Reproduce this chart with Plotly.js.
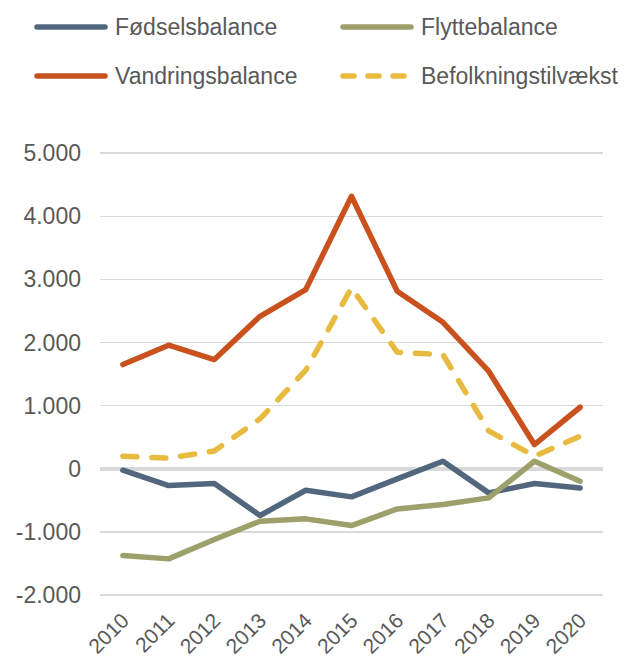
<!DOCTYPE html>
<html>
<head>
<meta charset="utf-8">
<script src="https://cdn.plot.ly/plotly-3.0.1.min.js"></script>
<style>
html,body{margin:0;padding:0;background:#fff;}
#chart{width:625px;height:662px;}
.scatterlayer .js-line, .shapelayer path{stroke-linecap:round !important;stroke-linejoin:round !important;}
</style>
</head>
<body>
<div id="chart"></div>
<script>
const years = ['2010','2011','2012','2013','2014','2015','2016','2017','2018','2019','2020'];
const seriesNames = ['Fødselsbalance','Flyttebalance','Vandringsbalance','Befolkningstilvækst'];
const foedselsbalance = [-25, -268, -236, -743, -342, -447, -162, 117, -384, -236, -305];
const flyttebalance = [-1377, -1430, -1124, -833, -796, -902, -638, -569, -463, 117, -200];
const vandringsbalance = [1650, 1956, 1729, 2415, 2838, 4317, 2811, 2320, 1544, 382, 973];
const befolkningstilvaekst = [197, 165, 280, 790, 1560, 2865, 1845, 1808, 600, 197, 514];
const yTickVals = [-2000, -1000, 0, 1000, 2000, 3000, 4000, 5000];
const yTickText = ['-2.000', '-1.000', '0', '1.000', '2.000', '3.000', '4.000', '5.000'];

const colors = ['#52677D', '#9EA06C', '#C9511E', '#E8BB40'];
const dashes = ['solid', 'solid', 'solid', '14px,15px'];
const values = [foedselsbalance, flyttebalance, vandringsbalance, befolkningstilvaekst];
const LW = 5.5;

const traces = values.map((v, i) => ({
  type: 'scatter', mode: 'lines', x: years, y: v, name: seriesNames[i],
  line: {color: colors[i], width: LW, dash: dashes[i]},
  hoverinfo: 'x+y+name'
}));

// plot area in pixels
const W = 625, H = 662;
const mL = 100, mR = 22, mT = 150, mB = 64;
const pw = W - mL - mR, ph = H - mT - mB;
const px = x => (x - mL) / pw;
const py = y => (H - mB - y) / ph;

// manual legend (2 columns x 2 rows)
const legPos = [[37, 27], [343, 27], [37, 76], [343, 76]];
const shapes = [];
const annotations = [];
seriesNames.forEach((n, i) => {
  const [lx, ly] = legPos[i];
  shapes.push({type: 'line', xref: 'paper', yref: 'paper',
    x0: px(lx), x1: px(lx + 68), y0: py(ly), y1: py(ly),
    line: {color: colors[i], width: LW, dash: i === 3 ? '11px,14px' : 'solid'}});
  annotations.push({xref: 'paper', yref: 'paper', x: px(lx + 76), y: py(ly),
    xanchor: 'left', yanchor: 'middle', text: n, showarrow: false,
    font: {family: 'Liberation Sans, Arial, sans-serif', size: 23, color: '#595959'}});
});

const layout = {
  width: W, height: H,
  margin: {l: mL, r: mR, t: mT, b: mB},
  paper_bgcolor: '#fff', plot_bgcolor: '#fff',
  showlegend: false,
  font: {family: 'Liberation Sans, Arial, sans-serif', color: '#595959'},
  xaxis: {
    type: 'category', range: [-0.5, 10.5], showgrid: false, zeroline: false,
    showline: false, ticks: '', tickangle: -45,
    tickfont: {size: 21, color: '#595959'}, ticklabelstandoff: 5
  },
  yaxis: {
    range: [-2050, 5050], tickvals: yTickVals, ticktext: yTickText,
    showgrid: true, gridcolor: '#D9D9D9', gridwidth: 1.5,
    zeroline: true, zerolinecolor: '#D9D9D9', zerolinewidth: 4,
    showline: false, ticks: '', tickfont: {size: 23, color: '#595959'},
    ticklabelstandoff: 18
  },
  shapes: shapes,
  annotations: annotations
};

Plotly.newPlot('chart', traces, layout, {displayModeBar: false, staticPlot: true});
</script>
</body>
</html>
